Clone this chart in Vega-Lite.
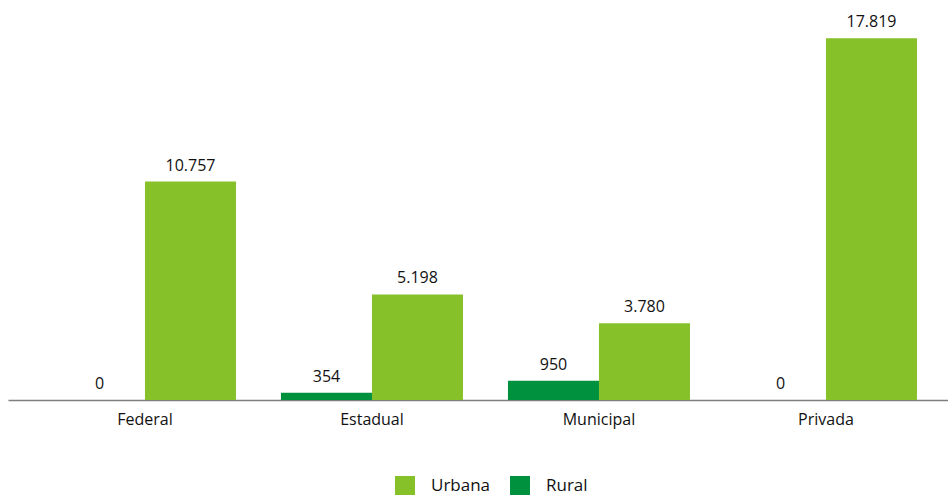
{
  "$schema": "https://vega.github.io/schema/vega-lite/v6.json",
  "width": 940,
  "height": 400,
  "autosize": {"type": "none"},
  "padding": {"left": 8, "top": 0, "right": 0, "bottom": 95},
  "background": "white",
  "config": {
    "view": {"stroke": null},
    "font": "Open Sans",
    "locale": {"number": {"decimal": ",", "thousands": ".", "grouping": [3], "currency": ["R$", ""]}}
  },
  "data": {
    "values": [
      {"rede": "Federal", "tipo": "Urbana", "valor": 10757},
      {"rede": "Federal", "tipo": "Rural", "valor": 0},
      {"rede": "Estadual", "tipo": "Urbana", "valor": 5198},
      {"rede": "Estadual", "tipo": "Rural", "valor": 354},
      {"rede": "Municipal", "tipo": "Urbana", "valor": 3780},
      {"rede": "Municipal", "tipo": "Rural", "valor": 950},
      {"rede": "Privada", "tipo": "Urbana", "valor": 17819},
      {"rede": "Privada", "tipo": "Rural", "valor": 0}
    ]
  },
  "encoding": {
    "x": {
      "field": "rede", "type": "nominal", "sort": ["Federal", "Estadual", "Municipal", "Privada"],
      "scale": {"paddingInner": 0.1982, "paddingOuter": 0.1696, "align": 0.597},
      "axis": {"title": null, "labelAngle": 0, "ticks": false, "domainColor": "#7f7f7f", "domainWidth": 1.5, "labelFontSize": 16, "labelColor": "#111", "labelPadding": 11, "labelFont": "Open Sans"}
    },
    "xOffset": {"field": "tipo", "type": "nominal", "scale": {"domain": ["Rural", "Urbana"], "paddingInner": 0, "paddingOuter": 0}},
    "y": {"field": "valor", "type": "quantitative", "scale": {"domain": [0, 19700], "nice": false}, "axis": null}
  },
  "layer": [
    {
      "mark": {"type": "bar"},
      "encoding": {
        "color": {
          "field": "tipo", "type": "nominal",
          "scale": {"domain": ["Urbana", "Rural"], "range": ["#86c12a", "#00913e"]},
          "legend": {
            "title": null, "orient": "none", "direction": "horizontal", "legendX": 387, "legendY": 476,
            "symbolType": "square", "symbolSize": 400, "symbolStrokeWidth": 0, "labelFontSize": 17, "labelColor": "#111",
            "labelOffset": 16, "columnPadding": 19, "symbolOpacity": 1, "labelFont": "Open Sans"
          }
        }
      }
    },
    {
      "mark": {"type": "text", "baseline": "bottom", "dy": -8, "fontSize": 16, "color": "#111", "font": "Open Sans"},
      "encoding": {"text": {"field": "valor", "type": "quantitative", "format": ",d"}}
    }
  ]
}
